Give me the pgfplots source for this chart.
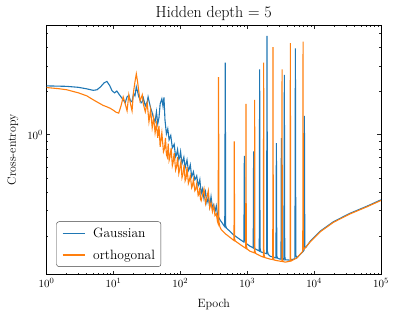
\documentclass[border=0pt]{standalone}
\usepackage{pgfplots}
\pgfplotsset{compat=1.18}
\definecolor{tabblue}{HTML}{1F77B4}
\definecolor{taborange}{HTML}{FF7F0E}
\begin{document}
\begin{tikzpicture}
\begin{axis}[
 name=ax,
 scale only axis, width=334.5pt, height=249.5pt,
 xmode=log, ymode=log,
 xmin=1, xmax=100000, ymin=0.108, ymax=5.75,
 xtick={1,10,100,1000,10000,100000},
 minor xtick={2,3,4,5,6,7,8,9,20,30,40,50,60,70,80,90,200,300,400,500,600,700,800,900,2000,3000,4000,5000,6000,7000,8000,9000,20000,30000,40000,50000,60000,70000,80000,90000},
 ytick={1},
 minor ytick={0.2,0.3,0.4,0.5,0.6,0.7,0.8,0.9,2,3,4,5},
 tick align=inside,
 major tick length=4pt, minor tick length=2pt,
 every tick/.style={black!85, line width=0.6pt},
 axis line style={black, line width=0.8pt},
 tick label style={font=\fontsize{11}{13}\selectfont},
 xlabel={Epoch}, ylabel={Cross-entropy},
 label style={font=\fontsize{12}{14}\selectfont},
 xlabel style={yshift=-5pt},
 ylabel style={yshift=2pt},
 title={Hidden depth = 5},
 title style={font=\fontsize{16}{19}\selectfont, yshift=-5pt},
 legend style={at={(0.0293,0.031)}, anchor=south west, draw=black!75, rounded corners=2.5pt,
   font=\fontsize{13.5}{16}\selectfont, inner xsep=3pt, inner ysep=4pt, row sep=7pt,
   nodes={inner xsep=3pt, inner ysep=2pt}},
 legend cell align=left,
 legend image code/.code={\draw[#1, line width=1.35pt] (0pt,0pt) -- (22.6pt,0pt); \path (-2.6pt,0pt) (27pt,0pt);},
]
\addplot[tabblue, line width=1.1pt] coordinates {
(1,2.18) (2,2.164) (3,2.13) (4,2.079) (5,2.03) (5.7,2.05) (6.43,2.147) (7.26,2.288) (7.99,2.34) (8.77,2.198) (9.56,2.015) (10.42,1.951) (11.25,2.008) (12.17,1.905)
(13,1.83) (14,1.746) (15,1.664) (16,1.83) (17,1.875) (18,1.718) (19,1.69) (20,1.935) (21,1.86) (22,2.147) (23,1.982) (24,1.83) (25,1.746) (26,1.664) (27,1.69) (28,1.80)
(30,1.586) (32,1.69) (33,1.83) (34,1.718) (36,1.536) (38,1.419) (40,1.29) (42,1.23) (44,1.442) (46,1.191) (48,1.311) (50,1.638) (53,1.773) (55,1.586) (57,1.816) (59,1.27) (62,1.016)
(65,1.10) (68,0.924) (70,0.96) (72,0.99) (76,0.813) (78,0.83) (81,0.86) (85,0.705) (88,0.73) (91,0.79) (95,0.672) (98,0.70) (101,0.765) (106,0.63) (109,0.66) (113,0.70)
(118,0.59) (121,0.62) (126,0.67) (132,0.565) (136,0.58) (141,0.62) (148,0.513) (152,0.53) (157,0.555) (165,0.489) (170,0.50) (176,0.52) (185,0.444) (190,0.46) (196,0.49)
(205,0.391) (215,0.423) (226,0.361) (238,0.404) (250,0.339) (262,0.367) (275,0.318) (288,0.373)
(302,0.313) (316,0.328) (330,0.2937) (345,0.323) (360,0.28) (390,0.259) (410,0.2505) (450,0.235) (462,0.2313) (470,3.16) (477,0.235) (490,0.226) (560,0.2136) (620,0.2037)
(790,0.188) (893,0.181) (906,0.716) (920,0.19) (950,0.178) (1100,0.1696) (1230,0.165) (1247,0.767) (1265,0.172) (1300,0.163) (1515,0.157) (1535,2.84) (1555,0.165) (1600,0.1548)
(1950,0.1505) (1978,4.83) (2006,0.157) (2060,0.149) (2200,0.1446) (2690,0.1407) (2730,0.876) (2770,0.145) (2850,0.14) (3100,0.1379) (3200,0.1378) (3240,0.949) (3280,0.141)
(3540,0.1368) (3590,2.60) (3640,0.145) (3720,0.1366) (4400,0.1357) (5170,0.139) (5250,3.97) (5330,0.147) (5500,0.1405) (6900,0.1566) (7060,0.159) (7160,1.353) (7260,0.168)
(7500,0.166) (8800,0.184) (12400,0.2158) (19600,0.251) (35000,0.2873) (62000,0.321) (100000,0.355)
};
\addlegendentry{Gaussian}
\addplot[taborange, line width=1.1pt] coordinates {
(1,2.123) (1.5,2.086) (2,2.05) (3,1.951) (4,1.86) (5,1.746) (6,1.664) (7,1.599) (8,1.561) (9,1.524) (10,1.477) (11,1.431) (12,1.413) (13,1.586) (14,1.83) (15,1.638)
(16,1.465) (17,1.89) (18,1.638) (19,1.465) (20,1.982) (21,2.324) (22,2.64) (23,2.324) (24,1.982) (25,1.718) (26,1.80) (27,1.89) (28,1.638) (30,1.442) (32,1.664) (34,1.23)
(36,1.489) (38,1.118) (40,1.311) (42,1.032) (44,1.191) (46,0.953) (48,1.154) (50,0.826) (53,1.032)
(56,0.763) (58,0.80) (60,0.95) (62,0.73) (64,0.70) (66,0.87) (68,0.665) (70,0.70) (73,0.81) (76,0.61) (78,0.64) (81,0.75) (85,0.57) (88,0.60) (91,0.70) (95,0.54) (98,0.58)
(102,0.65) (106,0.505) (110,0.54) (114,0.62) (118,0.48) (122,0.50) (126,0.60) (132,0.46) (136,0.48) (141,0.52) (148,0.43) (152,0.445) (157,0.49) (165,0.41) (170,0.42)
(176,0.46) (185,0.38) (190,0.39) (195,0.43) (200,0.36) (205,0.35) (215,0.385) (226,0.423) (238,0.334) (250,0.367) (262,0.41) (275,0.313) (288,0.339) (302,0.294) (316,0.323) (330,0.276)
(345,0.284) (360,0.2505) (368,0.243) (373,2.51) (378,0.2505) (390,0.2313) (410,0.2206) (470,0.2069) (560,0.1942) (635,0.1855) (641,0.899) (648,0.19) (665,0.184)
(790,0.1737) (950,0.164) (959,1.638) (969,0.172) (995,0.162) (1100,0.1566) (1280,0.1525) (1292,1.746) (1305,0.158) (1340,0.151) (1600,0.1446) (1745,0.1425) (1762,3.16)
(1780,0.15) (1830,0.1415) (2200,0.138) (2410,0.137) (2432,4.04) (2456,0.145) (2520,0.136) (3100,0.1335) (3290,0.133) (3320,2.84) (3350,0.14) (3450,0.1325) (3700,0.1315)
(4370,0.1335) (4415,4.30) (4460,0.141) (4550,0.134) (5600,0.1413) (6770,0.1565) (6840,4.41) (6910,0.166) (7100,0.162) (8800,0.1822) (12400,0.2136) (19600,0.2485)
(35000,0.2844) (62000,0.318) (100000,0.3515)
};
\addlegendentry{orthogonal}
\end{axis}
\pgfresetboundingbox
\path ([xshift=-46.5pt,yshift=-42.5pt]ax.south west) rectangle ([xshift=14pt,yshift=25pt]ax.north east);
\end{tikzpicture}
\end{document}
